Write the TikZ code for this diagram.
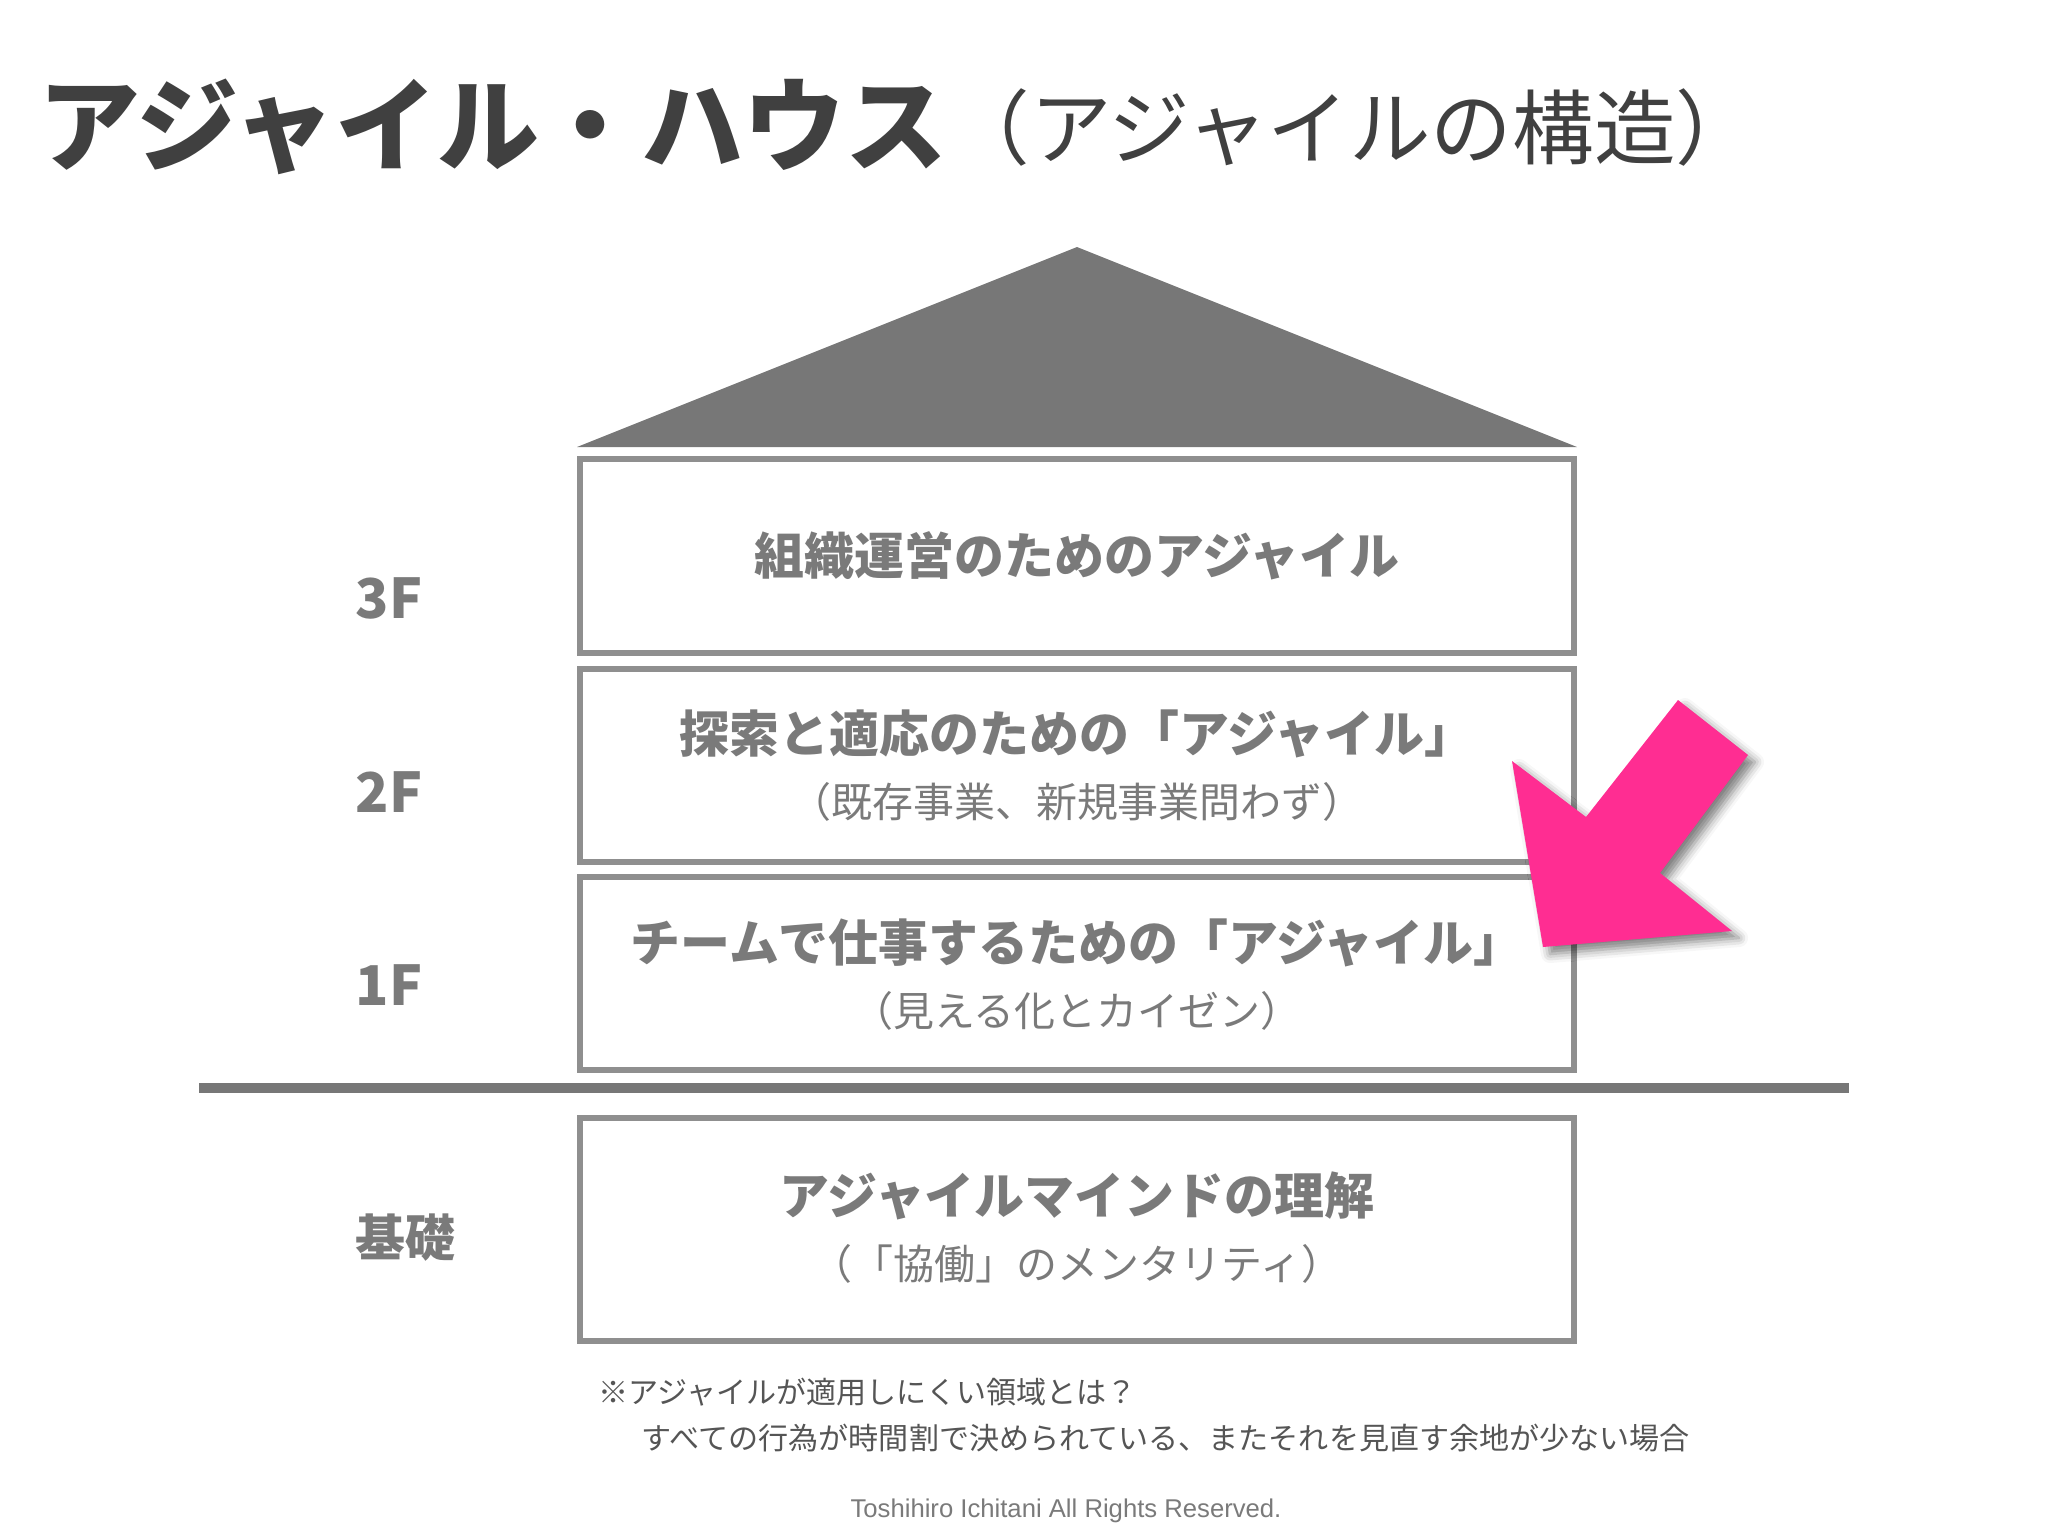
\documentclass[tikz,border=0pt]{standalone}
\usepackage{fontspec}
\setmainfont{Noto Sans CJK JP}
\newfontfamily\latinfont{Liberation Sans}
\usepackage{tikz}
\usetikzlibrary{shapes,arrows,positioning,shadows.blur}

\definecolor{titlegray}{HTML}{404040}
\definecolor{textgray}{HTML}{7A7A7A}
\definecolor{floorgray}{HTML}{8F8F8F}
\definecolor{roofgray}{HTML}{777777}
\definecolor{notegray}{HTML}{555555}
\definecolor{arrowpink}{HTML}{FF2D92}

\tikzstyle{floor} = [rectangle, draw=floorgray, line width=0.06cm, minimum width=9.94cm, inner sep=0pt]
\tikzstyle{maintext} = [text=textgray, font=\fontsize{14.2}{16}\selectfont\bfseries, inner sep=0pt]
\tikzstyle{subtext} = [text=textgray, font=\fontsize{11.65}{13}\selectfont, inner sep=0pt]
\tikzstyle{floorlabel} = [text=textgray, anchor=west, inner sep=0pt]
\tikzstyle{note} = [text=notegray, font=\fontsize{8.55}{10}\selectfont, anchor=west, inner sep=0pt]

\begin{document}
\begin{tikzpicture}[x=0.01cm, y=-0.01cm]
      \useasboundingbox (0,0) rectangle (2048,1536);

      % title
      \node [anchor=west, inner sep=0pt, text=titlegray, font=\fontsize{29}{31}\selectfont\bfseries] (title) at (38,127) {アジャイル・ハウス};
      \node [right=0pt of title, inner sep=0pt, text=titlegray, font=\fontsize{23.2}{25}\selectfont] (subtitle) {（アジャイルの構造）};

      % place floors
      \node [floor, minimum height=1.94cm] (f3) at (1077,556) {};
      \node [floor, minimum height=1.93cm, below of=f3, node distance=2.095cm] (f2) {};
      \node [floor, minimum height=1.93cm, below of=f2, node distance=2.08cm] (f1) {};
      \node [floor, minimum height=2.23cm, below of=f1, node distance=2.56cm] (base) {};

      % texts in floors
      \node [maintext] (t3) at (f3) {組織運営のためのアジャイル};
      \node [maintext, above of=f2, node distance=0.32cm] (t2) {探索と適応のための「アジャイル」};
      \node [subtext, below of=f2, node distance=0.36cm] (s2) {（既存事業、新規事業問わず）};
      \node [maintext, above of=f1, node distance=0.31cm] (t1) {チームで仕事するための「アジャイル」};
      \node [subtext, below of=f1, node distance=0.37cm] (s1) {（見える化とカイゼン）};
      \node [maintext, above of=base, node distance=0.335cm] (tb) {アジャイルマインドの理解};
      \node [subtext, below of=base, node distance=0.345cm] (sb) {（「協働」のメンタリティ）};

      % floor labels
      \node [floorlabel, font=\fontsize{15.6}{17}\selectfont\bfseries] (l3) at (355,598) {3F};
      \node [floorlabel, font=\fontsize{15.6}{17}\selectfont\bfseries] (l2) at (355,792) {2F};
      \node [floorlabel, font=\fontsize{15.6}{17}\selectfont\bfseries] (l1) at (355,985) {1F};
      \node [floorlabel, font=\fontsize{14.2}{16}\selectfont\bfseries] (lb) at (355,1238) {基礎};

      % roof and ground
      \coordinate (apex) at (1077,247);
      \fill [roofgray] (577,447) -- (apex) -- (1577,447) -- cycle;
      \draw [roofgray, line width=0.1cm] (199,1088) -- (1849,1088);

      % notes
      \node [note] (note1) at (598,1392) {※アジャイルが適用しにくい領域とは？};
      \node [note] (note2) at (641,1438) {すべての行為が時間割で決められている、またそれを見直す余地が少ない場合};
      \node [inner sep=0pt, text=textgray, font=\latinfont\fontsize{7.3}{9}\selectfont] (copy) at (1066,1511) {Toshihiro Ichitani All Rights Reserved.};

      % pointer
      \fill [arrowpink, blur shadow={shadow xshift=0.07cm, shadow yshift=-0.07cm, shadow blur radius=0.09cm, shadow opacity=50}]
            (1678,700) -- (1748,755) -- (1660,873) -- (1732,931) -- (1543,947) -- (1512,761) -- (1586,817) -- cycle;
\end{tikzpicture}
\end{document}
